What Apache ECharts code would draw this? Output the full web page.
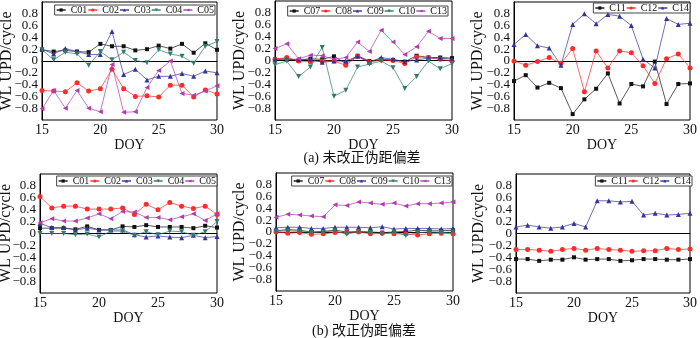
<!DOCTYPE html>
<html><head><meta charset="utf-8">
<script src="https://cdn.jsdelivr.net/npm/echarts@6/dist/echarts.min.js"></script>
<style>html,body{margin:0;padding:0;background:#fff}#c{width:700px;height:338px}</style>
</head><body><div id="c"></div>
<script>
const days = [15,16,17,18,19,20,21,22,23,24,25,26,27,28,29,30];
const xTicks = [15,20,25,30];
const yTicks = [-0.8,-0.6,-0.4,-0.2,0,0.2,0.4,0.6,0.8];
const captionA = '(a) 未改正伪距偏差';
const captionB = '(b) 改正伪距偏差';
const xName = 'DOY';
const yName = 'WL UPD/cycle';

// (a) uncorrected
const a_C01 = [0.19,0.16,0.18,0.16,0.15,0.29,0.25,0.25,0.18,0.20,0.26,0.21,0.29,0.14,0.30,0.19];
const a_C02 = [-0.50,-0.51,-0.52,-0.37,-0.51,-0.47,-0.14,-0.47,-0.60,-0.59,-0.61,-0.41,-0.41,-0.61,-0.49,-0.56];
const a_C03 = [0.20,0.12,0.21,0.16,0.11,0.11,0.50,-0.23,-0.14,-0.32,-0.26,-0.26,-0.21,-0.26,-0.17,-0.20];
const a_C04 = [0.19,0.02,0.15,0.12,-0.07,0.16,0.02,0.15,0.01,-0.03,0.19,0.12,0.08,-0.04,0.25,0.33];
const a_C05 = [-0.81,-0.50,-0.80,-0.50,-0.80,-0.86,-0.06,-0.87,-0.86,-0.45,-0.16,0.00,-0.55,-0.58,-0.51,-0.42];
const a_C07 = [0.02,0.03,0.00,0.03,0.02,0.07,-0.05,0.08,-0.01,0.02,0.01,-0.02,0.08,0.05,0.05,0.04];
const a_C08 = [0.02,0.05,-0.01,-0.02,-0.01,-0.01,-0.08,0.07,-0.03,0.01,0.00,-0.05,0.06,0.05,0.02,-0.01];
const a_C09 = [0.02,0.02,0.02,0.02,-0.03,-0.01,-0.01,0.07,-0.03,0.05,0.02,-0.02,0.01,0.04,0.04,0.02];
const a_C10 = [-0.07,-0.01,-0.27,-0.11,0.22,-0.60,-0.50,-0.11,-0.06,-0.01,-0.12,-0.47,-0.27,-0.01,-0.14,-0.05];
const a_C13 = [0.20,0.28,0.03,0.09,0.08,0.02,0.05,0.31,0.15,0.51,0.31,0.10,0.23,0.49,0.37,0.37];
const a_C11 = [-0.34,-0.24,-0.45,-0.37,-0.46,-0.90,-0.65,-0.47,-0.21,-0.72,-0.39,-0.43,-0.01,-0.73,-0.39,-0.38];
const a_C12 = [0.00,-0.07,-0.01,0.06,-0.04,0.21,-0.52,0.17,-0.12,0.17,0.14,-0.08,-0.38,0.04,0.12,-0.12];
const a_C14 = [0.28,0.45,0.26,0.22,-0.07,0.62,0.80,0.63,0.79,0.76,0.60,0.03,-0.12,0.72,0.62,0.64];

// (b) corrected
const b_C01 = [0.09,0.09,0.09,0.07,0.12,0.06,0.06,0.12,0.11,0.14,0.11,0.11,0.11,0.09,0.13,0.10];
const b_C02 = [0.62,0.43,0.46,0.46,0.41,0.41,0.41,0.43,0.32,0.49,0.40,0.52,0.46,0.42,0.46,0.32];
const b_C03 = [0.17,0.10,0.10,0.06,0.09,0.06,0.06,0.06,-0.02,-0.06,-0.04,-0.06,-0.07,-0.03,-0.07,-0.05];
const b_C04 = [0.00,0.00,0.00,-0.02,-0.01,-0.06,0.04,0.04,-0.03,0.03,-0.02,0.04,0.03,-0.03,0.03,0.20];
const b_C05 = [0.18,0.25,0.21,0.21,0.26,0.33,0.25,0.37,0.36,0.27,0.27,0.23,0.28,0.33,0.22,0.33];
const b_C07 = [0.02,0.04,0.03,0.00,0.01,0.03,0.00,0.01,0.00,-0.01,0.00,0.01,0.03,0.02,0.02,0.03];
const b_C08 = [0.00,-0.02,-0.01,-0.04,-0.03,-0.01,-0.01,0.00,-0.03,-0.02,-0.03,-0.03,-0.05,-0.03,-0.02,-0.03];
const b_C09 = [0.07,0.08,0.08,0.06,0.06,0.08,0.08,0.08,0.07,0.09,0.05,0.06,0.06,0.06,0.05,0.06];
const b_C10 = [0.01,0.02,0.01,-0.01,0.00,0.02,-0.04,0.01,-0.01,-0.03,0.00,-0.06,-0.01,0.00,-0.01,0.00];
const b_C13 = [0.25,0.30,0.29,0.27,0.26,0.46,0.45,0.51,0.49,0.47,0.49,0.44,0.48,0.48,0.49,0.51];
const b_C11 = [-0.43,-0.43,-0.46,-0.44,-0.44,-0.40,-0.44,-0.43,-0.43,-0.46,-0.45,-0.43,-0.43,-0.44,-0.44,-0.43];
const b_C12 = [-0.27,-0.27,-0.28,-0.30,-0.27,-0.25,-0.28,-0.25,-0.27,-0.28,-0.30,-0.29,-0.29,-0.25,-0.27,-0.26];
const b_C14 = [0.11,0.14,0.11,0.09,0.11,0.17,0.11,0.55,0.55,0.53,0.54,0.31,0.34,0.31,0.32,0.34];

const BLACK='#111111', RED='#ff2a2a', BLUE='#33339a', TEAL='#2f7a6c', MAG='#b03cb0';
const styleA = [
  {color:BLACK, symbol:'rect', rot:0},
  {color:RED, symbol:'circle', rot:0},
  {color:BLUE, symbol:'triangle', rot:0},
  {color:TEAL, symbol:'triangle', rot:180},
  {color:MAG, symbol:'triangle', rot:90}
];
const styleC = [
  {color:BLACK, symbol:'rect', rot:0},
  {color:RED, symbol:'circle', rot:0},
  {color:BLUE, symbol:'triangle', rot:0}
];

const panels = [
  {grid:{left:42,top:2,width:175,height:118}, names:['C01','C02','C03','C04','C05'], data:[a_C01,a_C02,a_C03,a_C04,a_C05], st:styleA, leg:{right:485,top:5}, yn:7},
  {grid:{left:275,top:1,width:177,height:119}, names:['C07','C08','C09','C10','C13'], data:[a_C07,a_C08,a_C09,a_C10,a_C13], st:styleA, leg:{right:252,top:6}, yn:240},
  {grid:{left:514,top:2,width:178,height:118}, names:['C11','C12','C14'], data:[a_C11,a_C12,a_C14], st:styleC, leg:{right:10,top:3}, yn:478},
  {grid:{left:40,top:174,width:177,height:119}, names:['C01','C02','C03','C04','C05'], data:[b_C01,b_C02,b_C03,b_C04,b_C05], st:styleA, leg:{right:483,top:176}, yn:6},
  {grid:{left:276,top:173,width:177,height:118}, names:['C07','C08','C09','C10','C13'], data:[b_C07,b_C08,b_C09,b_C10,b_C13], st:styleA, leg:{right:248,top:176}, yn:240},
  {grid:{left:516,top:174,width:177,height:119}, names:['C11','C12','C14'], data:[b_C11,b_C12,b_C14], st:styleC, leg:{right:8,top:176}, yn:479}
];

const FONT = '"Liberation Serif","Times New Roman",serif';
const option = {animation:false, backgroundColor:'#fff', grid:[], xAxis:[], yAxis:[], series:[], legend:[], graphic:[]};

panels.forEach((p,i)=>{
  option.grid.push(Object.assign({show:true, borderColor:'#000', borderWidth:1, containLabel:false}, p.grid));
  option.xAxis.push({gridIndex:i, type:'value', min:15, max:30, interval:5,
    name:xName, nameLocation:'middle', nameGap:17,
    nameTextStyle:{fontFamily:FONT, fontSize:14, color:'#111'},
    axisLine:{show:true, lineStyle:{color:'#000', width:1}}, axisTick:{show:false}, splitLine:{show:false},
    axisLabel:{fontFamily:FONT, fontSize:14, color:'#111', margin:3, showMinLabel:true, showMaxLabel:true}});
  option.yAxis.push({gridIndex:i, type:'value', min:-1, max:1, interval:0.2,
    axisLine:{show:true, lineStyle:{color:'#000', width:1}}, axisTick:{show:false}, splitLine:{show:false},
    axisLabel:{fontFamily:FONT, fontSize:13, color:'#111', margin:4,
      formatter:v=>{const r=Math.round(v*10)/10; if(Math.abs(r)>=0.95) return ''; if(!yTicks.some(t=>Math.abs(t-r)<1e-6)) return ''; return r===0?'0':(r<0?'−'+Math.abs(r).toString():r.toString());}}});
  const legData=[];
  p.names.forEach((n,k)=>{
    const s=p.st[k];
    legData.push(n);
    option.series.push({type:'line', name:n, xAxisIndex:i, yAxisIndex:i,
      data:days.map((d,j)=>[d,p.data[k][j]]),
      symbol:s.symbol, symbolRotate:s.rot, symbolSize:s.symbol==='rect'?4:5,
      itemStyle:{color:s.color}, lineStyle:{color:s.color, width:1, opacity:0.7}, z:2+k});
  });
  option.legend.push({data:legData, right:p.leg.right, top:p.leg.top, orient:'horizontal',
    backgroundColor:'#fff', borderColor:'#444', borderWidth:1, padding:[0,1,0,1],
    itemGap:0, itemWidth:9, itemHeight:4,
    textStyle:{fontFamily:FONT, fontSize:10, color:'#111', lineHeight:10}});
  const cy = p.grid.top + p.grid.height/2;
  option.graphic.push({type:'text', x:p.yn, y:cy, rotation:Math.PI/2, style:{text:yName, font:'16px '+FONT, fill:'#111', align:'center', verticalAlign:'middle'}});
});
option.graphic.push({type:'text', x:362, y:151, style:{text:captionA, font:'14px "Liberation Serif","Noto Sans CJK SC",serif', fill:'#111', align:'center', verticalAlign:'top'}});
option.graphic.push({type:'text', x:364, y:324, style:{text:captionB, font:'14px "Liberation Serif","Noto Sans CJK SC",serif', fill:'#111', align:'center', verticalAlign:'top'}});

const chart = echarts.init(document.getElementById('c'), null, {renderer:'canvas'});
chart.setOption(option);
</script></body></html>
